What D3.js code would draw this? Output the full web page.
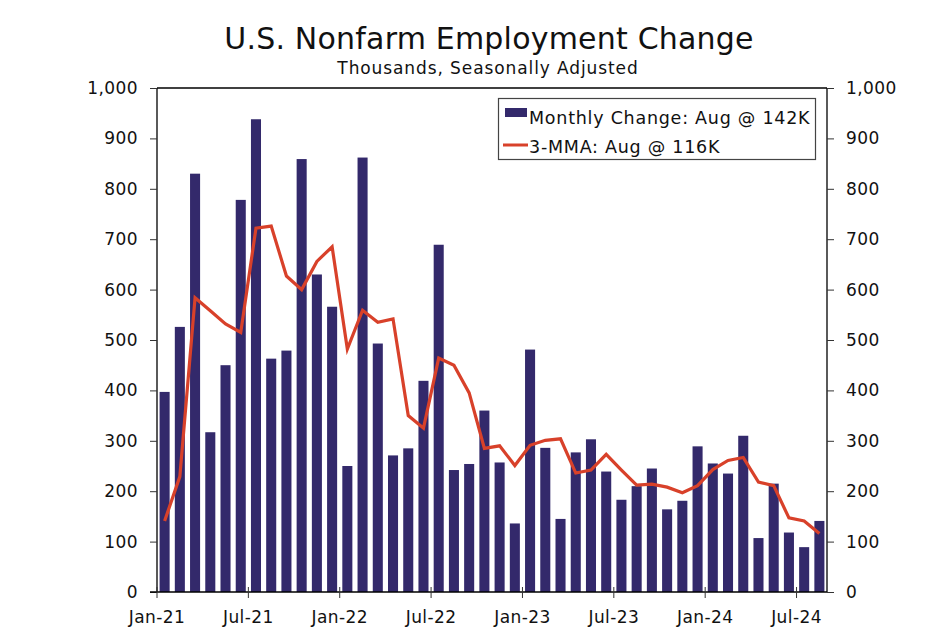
<!DOCTYPE html>
<html>
<head>
<meta charset="utf-8">
<script src="https://cdn.jsdelivr.net/npm/d3@7"></script>
<style>
  body { margin: 0; background: #fff; }
  svg { display: block; }
  text { font-family: "DejaVu Sans", Verdana, sans-serif; fill: #111; }
</style>
</head>
<body>
<svg id="chart" width="950" height="630"></svg>
<script>
const months = [
  "Jan-21","Feb-21","Mar-21","Apr-21","May-21","Jun-21","Jul-21","Aug-21","Sep-21","Oct-21","Nov-21","Dec-21",
  "Jan-22","Feb-22","Mar-22","Apr-22","May-22","Jun-22","Jul-22","Aug-22","Sep-22","Oct-22","Nov-22","Dec-22",
  "Jan-23","Feb-23","Mar-23","Apr-23","May-23","Jun-23","Jul-23","Aug-23","Sep-23","Oct-23","Nov-23","Dec-23",
  "Jan-24","Feb-24","Mar-24","Apr-24","May-24","Jun-24","Jul-24","Aug-24"
];
const monthlyChange = [
  397, 526, 830, 317, 450, 778, 938, 463, 479, 859, 630, 566,
  250, 862, 493, 271, 285, 419, 689, 242, 254, 360, 257, 136,
  481, 286, 145, 277, 303, 239, 183, 210, 245, 164, 181, 289,
  255, 235, 310, 107, 215, 118, 89, 141
];
const mma3 = [
  141, 229, 584, 558, 532, 515, 722, 726, 627, 600, 656, 685,
  482, 559, 535, 542, 350, 325, 464, 450, 395, 285, 290, 251,
  291, 301, 304, 236, 242, 273, 242, 212, 214, 208, 197, 211,
  243, 261, 267, 218, 211, 147, 141, 116
];
const xTickLabels = ["Jan-21","Jul-21","Jan-22","Jul-22","Jan-23","Jul-23","Jan-24","Jul-24"];
const yTicks = [0,100,200,300,400,500,600,700,800,900,1000];
const titleText = "U.S. Nonfarm Employment Change";
const subtitleText = "Thousands, Seasonally Adjusted";
const legendLabels = ["Monthly Change: Aug @ 142K", "3-MMA: Aug @ 116K"];

const barColor = "#33296b";
const lineColor = "#d8412a";
const FONT = '"DejaVu Sans", Verdana, sans-serif';

(function () {
const svg = d3.select("#chart");
const pl = 157, pr = 827, pt = 88, pb = 592;

const x = d3.scaleBand().domain(months).range([pl, pr]).paddingInner(0.34).paddingOuter(0.17);
const y = d3.scaleLinear().domain([0, 1000]).range([pb, pt]);
const fmt = d3.format(",");

// Title
svg.append("text").attr("x", 489).attr("y", 49).attr("text-anchor", "middle")
  .attr("font-size", 30).attr("letter-spacing", 0.2).text(titleText);
svg.append("text").attr("x", 488).attr("y", 74).attr("text-anchor", "middle")
  .attr("font-size", 17).attr("letter-spacing", 0.9).text(subtitleText);

// Bars
svg.append("g").selectAll("rect").data(monthlyChange).join("rect")
  .attr("x", (d, i) => x(months[i]))
  .attr("width", x.bandwidth())
  .attr("y", d => y(d))
  .attr("height", d => y(0) - y(d))
  .attr("fill", barColor);

// Line
const line = d3.line().x((d, i) => x(months[i]) + x.bandwidth() / 2).y(d => y(d));
svg.append("path").datum(mma3).attr("d", line)
  .attr("fill", "none").attr("stroke", lineColor).attr("stroke-width", 3.2)
  .attr("stroke-linejoin", "miter");

// Frame: top line
svg.append("line").attr("x1", pl).attr("x2", pr).attr("y1", pt).attr("y2", pt)
  .attr("stroke", "#000").attr("stroke-width", 1.3);

// Left axis
const yLeft = d3.axisLeft(y).tickValues(yTicks).tickFormat(fmt).tickSize(7).tickPadding(12);
const gl = svg.append("g").attr("transform", `translate(${pl},0)`).call(yLeft);
// Right axis
const yRight = d3.axisRight(y).tickValues(yTicks).tickFormat(fmt).tickSize(7).tickPadding(12);
const gr = svg.append("g").attr("transform", `translate(${pr},0)`).call(yRight);
[gl, gr].forEach(g => {
  g.select(".domain").attr("stroke", "#000").attr("stroke-width", 1.3).attr("d", `M0,${pt}V${pb}`);
  g.selectAll(".tick line").attr("stroke", "#333");
  g.selectAll(".tick text").attr("font-size", 17).attr("letter-spacing", 0.4)
    .attr("font-family", FONT).attr("fill", "#111");
});

// Bottom axis
const xAxis = d3.axisBottom(x).tickValues(xTickLabels).tickSize(0).tickPadding(0);
const gb = svg.append("g").attr("transform", `translate(0,${pb})`).call(xAxis);
gb.select(".domain").attr("stroke", "#000").attr("stroke-width", 1.3).attr("d", `M${pl - 7},0H${pr}`);
gb.selectAll(".tick").attr("transform", d => `translate(${x(d) - x.step() * x.paddingOuter()},0)`);
gb.selectAll(".tick line").attr("y1", -5).attr("y2", 6).attr("stroke", "#333");
gb.selectAll(".tick text").attr("y", 26).attr("dy", "0.32em").attr("font-size", 17)
  .attr("letter-spacing", 0.4).attr("font-family", FONT).attr("fill", "#111");

// Legend
const lg = svg.append("g");
lg.append("rect").attr("x", 498.5).attr("y", 98.5).attr("width", 317).attr("height", 61)
  .attr("fill", "#fff").attr("stroke", "#444").attr("stroke-width", 1.2);
lg.append("rect").attr("x", 505).attr("y", 108).attr("width", 22).attr("height", 9).attr("fill", barColor);
lg.append("line").attr("x1", 503).attr("x2", 528).attr("y1", 145).attr("y2", 145)
  .attr("stroke", lineColor).attr("stroke-width", 3);
lg.append("text").attr("x", 529).attr("y", 124).attr("font-size", 17.5).attr("letter-spacing", 0.75).text(legendLabels[0]);
lg.append("text").attr("x", 529).attr("y", 153).attr("font-size", 17.5).attr("letter-spacing", 0.75).text(legendLabels[1]);
})();
</script>
</body>
</html>
